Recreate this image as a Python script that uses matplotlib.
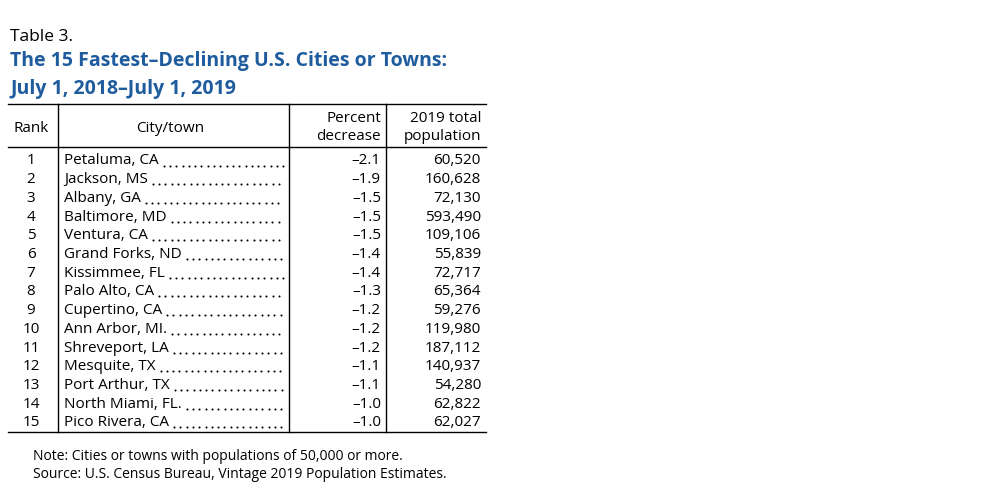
import matplotlib
matplotlib.use("Agg")
import matplotlib.pyplot as plt

ranks = list(range(1, 16))
cities = ["Petaluma, CA", "Jackson, MS", "Albany, GA", "Baltimore, MD", "Ventura, CA",
          "Grand Forks, ND", "Kissimmee, FL", "Palo Alto, CA", "Cupertino, CA",
          "Ann Arbor, MI.", "Shreveport, LA", "Mesquite, TX", "Port Arthur, TX",
          "North Miami, FL.", "Pico Rivera, CA"]
pct = ["\u20132.1", "\u20131.9", "\u20131.5", "\u20131.5", "\u20131.5", "\u20131.4", "\u20131.4",
       "\u20131.3", "\u20131.2", "\u20131.2", "\u20131.2", "\u20131.1", "\u20131.1", "\u20131.0", "\u20131.0"]
pop = ["60,520", "160,628", "72,130", "593,490", "109,106", "55,839", "72,717", "65,364",
       "59,276", "119,980", "187,112", "140,937", "54,280", "62,822", "62,027"]

plt.rcParams["font.family"] = ["Open Sans", "DejaVu Sans"]
fig = plt.figure(figsize=(10, 5.01), dpi=100)
ax = fig.add_axes([0, 0, 1, 1])
ax.set_xlim(0, 1000)
ax.set_ylim(501, 0)
ax.axis("off")

blue = "#1f5c9e"
fs = 11
ax.text(10, 37, "Table 3.", fontsize=12.5, va="center")
ax.text(10, 61, "The 15 Fastest\u2013Declining U.S. Cities or Towns:", fontsize=14,
        fontweight="bold", color=blue, va="center")
ax.text(10, 89, "July 1, 2018\u2013July 1, 2019", fontsize=14, fontweight="bold",
        color=blue, va="center")

lw = 1.0
for y in (104, 147, 432):
    ax.plot([8, 486], [y, y], color="black", lw=lw)
for x in (58, 289, 386):
    ax.plot([x, x], [104, 432], color="black", lw=lw)

ax.text(31, 128, "Rank", fontsize=fs, ha="center", va="center")
ax.text(170, 128, "City/town", fontsize=fs, ha="center", va="center")
ax.text(381, 118, "Percent", fontsize=fs, ha="right", va="center")
ax.text(381, 137, "decrease", fontsize=fs, ha="right", va="center")
ax.text(481, 118, "2019 total", fontsize=fs, ha="right", va="center")
ax.text(481, 137, "population", fontsize=fs, ha="right", va="center")

fig.canvas.draw()
renderer = fig.canvas.get_renderer()
for i, r in enumerate(ranks):
    y = 161 + i * 18.71
    ax.text(31, y, str(r), fontsize=fs, ha="center", va="center")
    t = ax.text(64, y, cities[i], fontsize=fs, ha="left", va="center")
    bb = t.get_window_extent(renderer)
    xend = bb.x1 + 5
    dx = []
    while xend < 284:
        dx.append(xend)
        xend += 6.3
    ax.scatter(dx, [y + 4.5] * len(dx), s=2.2, color="black", lw=0)
    ax.text(381, y, pct[i], fontsize=fs, ha="right", va="center")
    ax.text(481, y, pop[i], fontsize=fs, ha="right", va="center")

ax.text(33, 456, "Note: Cities or towns with populations of 50,000 or more.", fontsize=10, va="center")
ax.text(33, 474, "Source: U.S. Census Bureau, Vintage 2019 Population Estimates.", fontsize=10, va="center")

fig.savefig("out.png", dpi=100)
